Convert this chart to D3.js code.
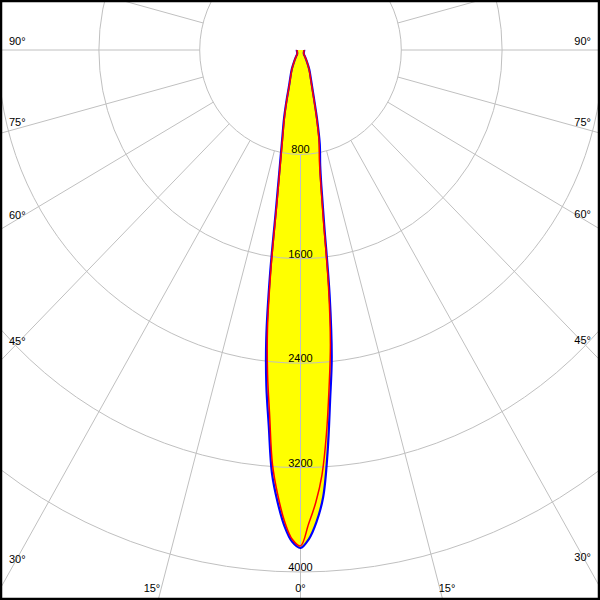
<!DOCTYPE html>
<html><head><meta charset="utf-8">
<script src="https://cdn.jsdelivr.net/npm/d3@7"></script>
<style>body{margin:0;background:#fff}svg{display:block}</style>
</head><body><svg id="chart" width="600" height="600"></svg>
<script>
// gamma angles (degrees from nadir) and luminous intensity (cd) per C-plane
const gammaAngles = [0,1,2,3,4,5,6,7,8,9,10,12,14,16,18,20,25,30,35,40,50,60,70,80,90];
const blueC0   = [3816,3750,3620,3432,3085,2695,2370,1900,1350,1060,900,735,540,390,300,245,165,100,62,42,34,31,30,30,29];
const blueC180 = [3816,3770,3650,3470,3250,2890,2590,2230,1740,1257,990,700,540,400,300,245,165,100,62,42,34,31,30,30,29];
const redC90   = [3800,3635,3470,3260,2950,2600,2270,1820,1290,1020,865,705,520,375,288,235,158,96,60,40,33,30,28,28,27];
const redC270  = [3805,3750,3615,3420,3185,2810,2500,2150,1675,1210,960,678,522,388,290,237,159,97,60,40,33,30,28,28,27];
const ringValues = [800,1600,2400,3200,4000];
const ringLabels = ["800","1600","2400","3200","4000"];
const spokeAngles = [0,15,30,45,60,75,90,105,120,135,150,165,180];
const angleLabelValues = [0,15,30,45,60,75,90];

const W = 600, H = 600, cx = 300.5, cy = 50;
const rX = d3.scaleLinear().domain([0, 4000]).range([0, 504]);
const rY = d3.scaleLinear().domain([0, 4000]).range([0, 522]);
const rad = d => d * Math.PI / 180;
const pt = (g, I) => [cx + rX(I) * Math.sin(rad(g)), cy + rY(I) * Math.cos(rad(g))];

const svg = d3.select("#chart");
svg.append("rect").attr("width", W).attr("height", H).attr("fill", "#fff");
svg.append("clipPath").attr("id", "frame").append("rect").attr("width", W).attr("height", H);
const g = svg.append("g").attr("clip-path", "url(#frame)");

function curvePoints(left, right) {
  const pts = [];
  for (let i = gammaAngles.length - 1; i > 0; i--) pts.push(pt(-gammaAngles[i], left[i]));
  for (let i = 0; i < gammaAngles.length; i++) pts.push(pt(gammaAngles[i], right[i]));
  return pts;
}
const line = d3.line().curve(d3.curveCatmullRom.alpha(0.5));
const bluePts = curvePoints(blueC180, blueC0);
const redPts = curvePoints(redC270, redC90);

// fill
g.append("path").attr("d", line(bluePts) + "Z").attr("fill", "#ffff00").attr("stroke", "none");

// ring labels
g.selectAll("text.ring").data(ringValues).join("text")
  .attr("class", "ring")
  .attr("x", cx).attr("y", (d) => cy + rY(d) - 1)
  .attr("text-anchor", "middle")
  .attr("font-family", "Liberation Sans, Arial, sans-serif").attr("font-size", 11)
  .attr("fill", "#000")
  .text((d, i) => ringLabels[i]);

// grid rings
g.selectAll("ellipse.ring").data(ringValues).join("ellipse")
  .attr("class", "ring")
  .attr("cx", cx).attr("cy", cy)
  .attr("rx", d => rX(d)).attr("ry", d => rY(d))
  .attr("fill", "none").attr("stroke", "#c0c0c0").attr("stroke-width", 1);

// spokes
const spokes = [];
spokeAngles.forEach(a => { spokes.push(a); if (a !== 0 && a !== 180) spokes.push(-a); });
g.selectAll("line.spoke").data(spokes).join("line")
  .attr("class", "spoke")
  .attr("x1", a => pt(a, 800)[0]).attr("y1", a => pt(a, 800)[1])
  .attr("x2", a => pt(a, 9000)[0]).attr("y2", a => pt(a, 9000)[1])
  .attr("stroke", "#c0c0c0").attr("stroke-width", 1);

// curves
g.append("path").attr("d", line(bluePts)).attr("fill", "none")
  .attr("stroke", "#0000ff").attr("stroke-width", 2.2).attr("stroke-linejoin", "round");
g.append("path").attr("d", line(redPts)).attr("fill", "none")
  .attr("stroke", "#ff0000").attr("stroke-width", 1.5).attr("stroke-linejoin", "round");

// angle labels
const kx = rX(1), ky = rY(1);
const labels = [];
angleLabelValues.forEach(a => {
  const sides = a === 0 ? [0] : [-1, 1];
  sides.forEach(s => {
    const txt = a + "\u00b0";
    if (a === 0) { labels.push({x: cx, y: 592, anchor: "middle", txt}); return; }
    const sa = Math.sin(rad(a)), ca = Math.cos(rad(a));
    const xEdge = s < 0 ? 14 : W - 14;
    const I = Math.abs(xEdge - cx) / (kx * sa);
    const yEdge = cy + I * ky * ca;
    if (yEdge < 590) {
      labels.push({x: s < 0 ? 9 : W - 9, y: yEdge - 5 * (1 - ca), anchor: s < 0 ? "start" : "end", txt});
    } else {
      const Ib = (592 - cy) / (ky * ca);
      const xb = cx + s * Ib * kx * sa;
      labels.push({x: s < 0 ? xb : xb - 2, y: 592, anchor: s < 0 ? "end" : "start", txt});
    }
  });
});
svg.selectAll("text.ang").data(labels).join("text")
  .attr("class", "ang")
  .attr("x", d => d.x).attr("y", d => d.y)
  .attr("text-anchor", d => d.anchor)
  .attr("font-family", "Liberation Sans, Arial, sans-serif").attr("font-size", 11)
  .attr("fill", "#000")
  .text(d => d.txt);

// frame
svg.append("rect").attr("x", 1).attr("y", 1).attr("width", W - 2).attr("height", H - 2)
  .attr("fill", "none").attr("stroke", "#000").attr("stroke-width", 2.5);
</script></body></html>
